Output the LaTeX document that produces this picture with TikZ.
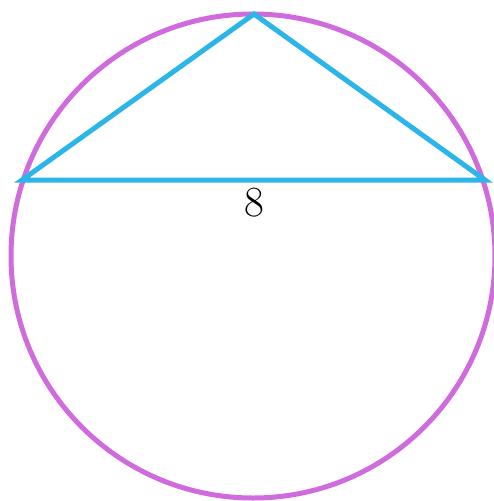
\documentclass[tikz,border=0pt]{standalone}
\usepackage{tikz}
\usetikzlibrary{calc}
\definecolor{ringpink}{HTML}{CF6BDD}
\definecolor{chordblue}{HTML}{2BB5E8}
\tikzstyle{ring}  =[draw=ringpink, line width=5pt]
\tikzstyle{chord} =[draw=chordblue, line width=5pt, line join=miter]

\begin{document}
\begin{tikzpicture}[x=1pt, y=-1pt]

  \useasboundingbox (0, 0) rectangle (494, 501);

  % ── points ────────────────────────────────────────────────────────────────
  \coordinate (ctr)  at (253, 256);
  \coordinate (apex) at (254, 14);
  \coordinate (lft)  at (22, 180);
  \coordinate (rgt)  at (485, 180);

  % ── circle and triangle ───────────────────────────────────────────────────
  \draw[ring] (ctr) circle[radius=242];
  \draw[chord] (lft) -- (apex) -- (rgt) -- cycle;

  % ── label ─────────────────────────────────────────────────────────────────
  \node[font=\fontsize{43}{50}\selectfont, inner sep=0pt] (len) at (254, 203) {8};

\end{tikzpicture}
\end{document}
